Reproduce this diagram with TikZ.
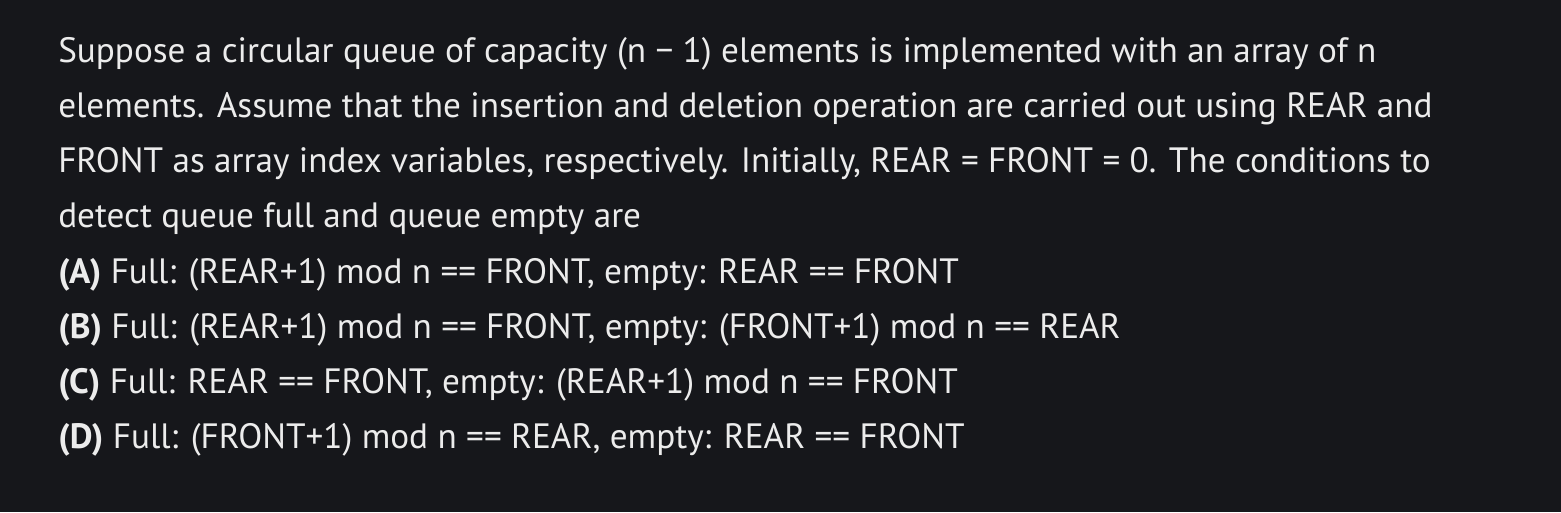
\documentclass[tikz,border=0pt]{standalone}
\usepackage{fontspec}
\setmainfont{PT Sans}
\definecolor{bg}{HTML}{16171B}
\definecolor{fg}{HTML}{ECECEC}
\begin{document}
\begin{tikzpicture}[x=0.75pt,y=-0.75pt,
  ln/.style={anchor=base west,inner sep=0pt,text=fg,font=\fontsize{26.4}{30}\selectfont}]
\fill[bg] (0,0) rectangle (1561,512);
\useasboundingbox (0,0) rectangle (1561,512);
\node[ln] (l1) at (58,62) {Suppose a circular queue of capacity (n − 1) elements is implemented with an array of n};
\node[ln] (l2) at (58,117) {elements. Assume that the insertion and deletion operation are carried out using REAR and};
\node[ln] (l3) at (58,172) {FRONT as array index variables, respectively. Initially, REAR = FRONT = 0. The conditions to};
\node[ln] (l4) at (58,227) {detect queue full and queue empty are};
\node[ln] (a) at (58,283) {\textbf{(A)} Full: (REAR+1) mod n == FRONT, empty: REAR == FRONT};
\node[ln] (b) at (58,338) {\textbf{(B)} Full: (REAR+1) mod n == FRONT, empty: (FRONT+1) mod n == REAR};
\node[ln] (c) at (58,393) {\textbf{(C)} Full: REAR == FRONT, empty: (REAR+1) mod n == FRONT};
\node[ln] (d) at (58,448) {\textbf{(D)} Full: (FRONT+1) mod n == REAR, empty: REAR == FRONT};
\end{tikzpicture}
\end{document}
